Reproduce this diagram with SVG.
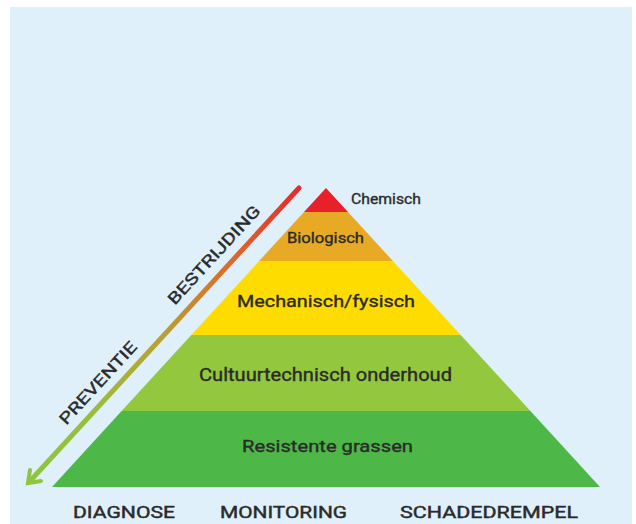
<svg xmlns="http://www.w3.org/2000/svg" width="636" height="524" viewBox="0 0 636 524">
  <defs>
    <style>
      .lbl { font-family: Roboto, "Liberation Sans", sans-serif; font-weight: 400; fill: #2a2a2a; stroke: #2a2a2a; stroke-width: 0.35px; text-anchor: middle; }
      .side { font-family: Roboto, "Liberation Sans", sans-serif; font-weight: 400; fill: #2a2a2a; stroke: #2a2a2a; stroke-width: 0.4px; text-anchor: middle; font-size: 16px; }
      .foot { font-family: Roboto, "Liberation Sans", sans-serif; font-weight: 400; fill: #2a2a2a; stroke: #2a2a2a; stroke-width: 0.45px; font-size: 17px; }
    </style>
    <linearGradient id="grad" gradientUnits="userSpaceOnUse" x1="299" y1="188" x2="28" y2="483">
      <stop offset="0" stop-color="#e52a2c"/>
      <stop offset="0.25" stop-color="#dc6a2a"/>
      <stop offset="0.5" stop-color="#b9a032"/>
      <stop offset="0.75" stop-color="#9bbd3a"/>
      <stop offset="1" stop-color="#8cc63f"/>
    </linearGradient>
  </defs>

  <rect x="0" y="0" width="636" height="524" fill="#ffffff"/>
  <rect x="10" y="7" width="622" height="517" fill="#dff0fb"/>

  <g id="layer-chemisch">
    <polygon points="326,188 348,212 304,212" fill="#e8202a"/>
    <text class="lbl" x="386" y="204" font-size="14" textLength="70" lengthAdjust="spacingAndGlyphs">Chemisch</text>
  </g>
  <g id="layer-biologisch">
    <polygon points="304,212 348,212 392.9,261 259.1,261" fill="#e8aa25"/>
    <text class="lbl" x="325.5" y="243" font-size="14" textLength="77" lengthAdjust="spacingAndGlyphs">Biologisch</text>
  </g>
  <g id="layer-mechanisch">
    <polygon points="259.1,261 392.9,261 460.7,335 191.3,335" fill="#ffdc00"/>
    <text class="lbl" x="326" y="307" font-size="16.5" textLength="178" lengthAdjust="spacingAndGlyphs">Mechanisch/fysisch</text>
  </g>
  <g id="layer-cultuurtechnisch">
    <polygon points="191.3,335 460.7,335 530.4,411 121.6,411" fill="#93c83e"/>
    <text class="lbl" x="325.5" y="381" font-size="17.5" textLength="253" lengthAdjust="spacingAndGlyphs">Cultuurtechnisch onderhoud</text>
  </g>
  <g id="layer-resistente">
    <polygon points="121.6,411 530.4,411 600,487 52,487" fill="#4db748"/>
    <text class="lbl" x="327.5" y="452" font-size="16.5" textLength="171" lengthAdjust="spacingAndGlyphs">Resistente grassen</text>
  </g>

  <g id="connectors">
    <line x1="299" y1="188" x2="31" y2="480" stroke="url(#grad)" stroke-width="5" stroke-linecap="round"/>
    <polyline points="30,470 28,483 41,481" fill="none" stroke="#8cc63f" stroke-width="4" stroke-linecap="round" stroke-linejoin="miter"/>
  </g>

  <g id="axis-labels">
    <text class="side" transform="translate(214,255) rotate(-47.4)" y="5.5" textLength="128" lengthAdjust="spacingAndGlyphs">BESTRIJDING</text>
    <text class="side" transform="translate(98,383) rotate(-47.4)" y="5.5" textLength="106" lengthAdjust="spacingAndGlyphs">PREVENTIE</text>
  </g>

  <g id="footer">
    <text class="foot" x="73" y="518" textLength="102" lengthAdjust="spacingAndGlyphs">DIAGNOSE</text>
    <text class="foot" x="220" y="518" textLength="127" lengthAdjust="spacingAndGlyphs">MONITORING</text>
    <text class="foot" x="400" y="518" textLength="178" lengthAdjust="spacingAndGlyphs">SCHADEDREMPEL</text>
  </g>
</svg>
